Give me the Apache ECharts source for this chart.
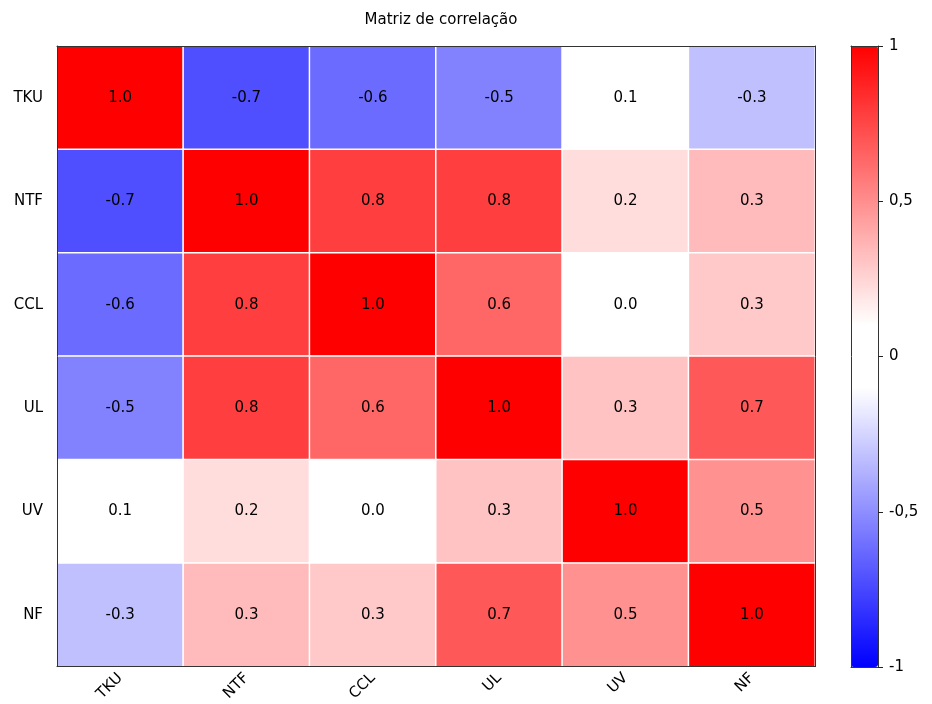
<!DOCTYPE html>
<html>
<head>
<meta charset="utf-8">
<title>Matriz de correlação</title>
<script src="https://cdn.jsdelivr.net/npm/echarts@6/dist/echarts.min.js"></script>
<style>
  html, body { margin: 0; padding: 0; background: #fff; }
  #chart { width: 932px; height: 704px; }
</style>
</head>
<body>
<div id="chart"></div>
<script>
// variables, top to bottom on the y axis, left to right on the x axis
const variables = ['TKU', 'NTF', 'CCL', 'UL', 'UV', 'NF']

// correlation matrix rows (estimated from cell shading, labels round to 1 decimal)
const rowTKU = [1.0, -0.72, -0.62, -0.54, 0.06, -0.32]
const rowNTF = [-0.72, 1.0, 0.78, 0.78, 0.22, 0.34]
const rowCCL = [-0.62, 0.78, 1.0, 0.64, 0.02, 0.29]
const rowUL = [-0.54, 0.78, 0.64, 1.0, 0.31, 0.69]
const rowUV = [0.06, 0.22, 0.02, 0.31, 1.0, 0.49]
const rowNF = [-0.32, 0.34, 0.29, 0.69, 0.49, 1.0]

const colorbarTicks = [-1, -0.5, 0, 0.5, 1]

const rows = [rowTKU, rowNTF, rowCCL, rowUL, rowUV, rowNF]
const cells = []
rows.forEach((row, yi) => {
  row.forEach((v, xi) => {
    cells.push([xi, yi, v])
  })
})

// blue -> white (flat near zero) -> red, sampled every 0.1
function colormap() {
  const out = []
  for (let k = -10; k <= 10; k++) {
    const v = k / 10
    let t = 0
    if (Math.abs(v) > 0.1) t = (Math.abs(v) - 0.1) / 0.9
    const c = Math.round(255 * (1 - t))
    out.push(v < 0 ? `rgb(${c},${c},255)` : `rgb(255,${c},${c})`)
  }
  return out
}

const font = "'DejaVu Sans', Verdana, sans-serif"
const frame = { show: true, onZero: false, lineStyle: { color: '#333', width: 1 } }
const chart = echarts.init(document.getElementById('chart'))

const option = {
  animation: false,
  backgroundColor: '#fff',
  title: {
    text: 'Matriz de correlação',
    left: 436,
    textAlign: 'center',
    top: 8,
    textStyle: { fontFamily: font, fontSize: 15, fontWeight: 'normal', color: '#000' }
  },
  grid: [
    { left: 57, right: 117, top: 46, bottom: 37, show: false },
    { left: 851, width: 27, top: 46, height: 621, show: false }
  ],
  xAxis: [
    {
      type: 'category',
      data: variables,
      gridIndex: 0,
      position: 'bottom',
      z: 10,
      axisLine: frame,
      axisTick: { length: 5, alignWithLabel: true, lineStyle: { color: '#333' } },
      axisLabel: { rotate: 45, fontFamily: font, fontSize: 15, color: '#000', margin: 9 },
      splitLine: { show: false }
    },
    {
      type: 'category',
      data: variables,
      gridIndex: 0,
      position: 'top',
      z: 10,
      axisLine: frame,
      axisTick: { show: false }, axisLabel: { show: false }, splitLine: { show: false }
    },
    {
      type: 'value', gridIndex: 1, min: 0, max: 1, position: 'bottom', z: 10,
      axisLine: frame,
      axisTick: { show: false }, axisLabel: { show: false }, splitLine: { show: false }
    },
    {
      type: 'value', gridIndex: 1, min: 0, max: 1, position: 'top', z: 10,
      axisLine: frame,
      axisTick: { show: false }, axisLabel: { show: false }, splitLine: { show: false }
    }
  ],
  yAxis: [
    {
      type: 'category',
      data: variables,
      inverse: true,
      gridIndex: 0,
      position: 'left',
      z: 10,
      axisLine: frame,
      axisTick: { length: 5, alignWithLabel: true, lineStyle: { color: '#333' } },
      axisLabel: { fontFamily: font, fontSize: 15, color: '#000', margin: 14 },
      splitLine: { show: false }
    },
    {
      type: 'category',
      data: variables,
      inverse: true,
      gridIndex: 0,
      position: 'right',
      z: 10,
      axisLine: frame,
      axisTick: { show: false }, axisLabel: { show: false }, splitLine: { show: false }
    },
    {
      type: 'value', gridIndex: 1, min: -1, max: 1, interval: 0.5, position: 'right', z: 10,
      axisLine: frame,
      axisTick: { show: true, length: 5, lineStyle: { color: '#222' } },
      axisLabel: {
        fontFamily: font, fontSize: 15, color: '#000', margin: 11,
        formatter: v => (colorbarTicks.includes(v) ? String(v).replace('.', ',') : '')
      },
      splitLine: { show: false }
    },
    {
      type: 'value', gridIndex: 1, min: -1, max: 1, position: 'left', z: 10,
      axisLine: frame,
      axisTick: { show: false }, axisLabel: { show: false }, splitLine: { show: false }
    }
  ],
  visualMap: {
    type: 'continuous',
    min: -1,
    max: 1,
    seriesIndex: 0,
    calculable: false,
    hoverLink: false,
    left: 851,
    top: 46,
    padding: 0,
    itemWidth: 27,
    itemHeight: 621,
    text: ['', ''],
    textGap: 0,
    inRange: { color: colormap() }
  },
  series: [
    {
      type: 'heatmap',
      xAxisIndex: 0,
      yAxisIndex: 0,
      data: cells,
      label: {
        show: true,
        fontFamily: font,
        fontSize: 15,
        color: '#000',
        formatter: p => p.value[2].toFixed(1)
      },
      itemStyle: { borderColor: '#fff', borderWidth: 1.5 }
    },
    {
      type: 'scatter',
      xAxisIndex: 2,
      yAxisIndex: 2,
      data: [],
      silent: true
    }
  ]
}

chart.setOption(option)
</script>
</body>
</html>
